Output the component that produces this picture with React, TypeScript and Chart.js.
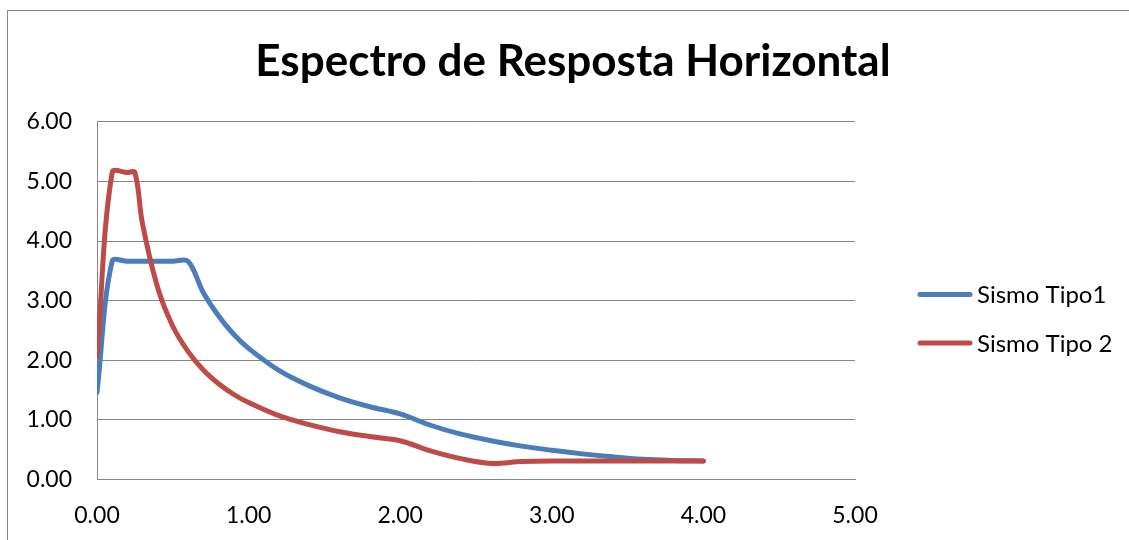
import React, { useEffect, useRef } from "react";
import { Chart, registerables } from "chart.js";

Chart.register(...registerables);

const chartTitle = "Espectro de Resposta Horizontal";
const seriesNames = ["Sismo Tipo1", "Sismo Tipo 2"];
const seriesColors = ["#4A7EBB", "#BE4B48"];

const tipo1T = [0, 0.1, 0.2, 0.3, 0.4, 0.5, 0.6, 0.7, 0.8, 0.9, 1.0, 1.2, 1.4, 1.6, 1.8, 2.0, 2.2, 2.4, 2.6, 2.8, 3.0, 3.2, 3.4, 3.6, 3.8, 4.0];
const tipo1Se = [1.46, 3.66, 3.66, 3.66, 3.66, 3.66, 3.66, 3.14, 2.75, 2.44, 2.2, 1.83, 1.57, 1.37, 1.22, 1.1, 0.91, 0.76, 0.65, 0.56, 0.49, 0.43, 0.38, 0.34, 0.32, 0.31];

const tipo2T = [0, 0.1, 0.2, 0.25, 0.3, 0.4, 0.5, 0.6, 0.7, 0.8, 0.9, 1.0, 1.2, 1.4, 1.6, 1.8, 2.0, 2.2, 2.4, 2.6, 2.8, 3.0, 3.5, 4.0];
const tipo2Se = [2.06, 5.15, 5.15, 5.15, 4.29, 3.22, 2.57, 2.15, 1.84, 1.61, 1.43, 1.29, 1.07, 0.92, 0.8, 0.72, 0.65, 0.48, 0.35, 0.27, 0.3, 0.31, 0.31, 0.31];

const xTicks = [0, 1, 2, 3, 4, 5];
const yTicks = [0, 1, 2, 3, 4, 5, 6];

const GRID = "#868686";
const FONT = "Lato";

const legendPlugin = {
  id: "excelLegend",
  afterDraw(chart: any) {
    const ctx = chart.ctx as CanvasRenderingContext2D;
    const rows = [283.5, 332];
    ctx.save();
    seriesNames.forEach((name, i) => {
      const y = rows[i];
      ctx.strokeStyle = seriesColors[i];
      ctx.lineWidth = 5;
      ctx.lineCap = "round";
      ctx.beginPath();
      ctx.moveTo(912, y);
      ctx.lineTo(962, y);
      ctx.stroke();
      ctx.fillStyle = "#000";
      ctx.font = `24px ${FONT}`;
      ctx.textAlign = "left";
      ctx.textBaseline = "middle";
      ctx.fillText(name, 969, y + 1);
    });
    ctx.restore();
  },
};

export default function App() {
  const canvasRef = useRef<HTMLCanvasElement>(null);

  useEffect(() => {
    const makeData = (ts: number[], vs: number[]) => ts.map((t, i) => ({ x: t, y: vs[i] }));
    const chart = new Chart(canvasRef.current!, {
      type: "line",
      data: {
        datasets: [
          {
            label: seriesNames[0],
            data: makeData(tipo1T, tipo1Se),
            borderColor: seriesColors[0],
            backgroundColor: seriesColors[0],
            borderWidth: 5,
            pointRadius: 0,
            tension: 0.35,
            borderCapStyle: "round",
            borderJoinStyle: "round",
            fill: false,
            order: 1,
          },
          {
            label: seriesNames[1],
            data: makeData(tipo2T, tipo2Se),
            borderColor: seriesColors[1],
            backgroundColor: seriesColors[1],
            borderWidth: 5,
            pointRadius: 0,
            tension: 0.35,
            borderCapStyle: "round",
            borderJoinStyle: "round",
            fill: false,
            order: 0,
          },
        ],
      },
      options: {
        animation: false,
        responsive: false,
        devicePixelRatio: 1,
        layout: { padding: 0 },
        plugins: {
          legend: { display: false },
          tooltip: { enabled: false },
          title: {
            display: true,
            text: chartTitle,
            color: "#000",
            font: { family: FONT, size: 44, weight: "bold" },
            padding: { top: 24, bottom: 34 },
          },
        },
        scales: {
          x: {
            type: "linear",
            min: xTicks[0],
            max: xTicks[xTicks.length - 1],
            afterBuildTicks: (scale: any) => {
              scale.ticks = xTicks.map((v) => ({ value: v }));
            },
            afterFit: (scale: any) => {
              scale.height = 69.5;
            },
            grid: { display: false, drawTicks: false },
            border: { display: true, color: GRID, width: 1 },
            ticks: {
              color: "#000",
              font: { family: FONT, size: 23 },
              padding: 22,
              maxRotation: 0,
              callback: (v: any) => Number(v).toFixed(2),
            },
          },
          y: {
            type: "linear",
            min: yTicks[0],
            max: yTicks[yTicks.length - 1],
            afterBuildTicks: (scale: any) => {
              scale.ticks = yTicks.map((v) => ({ value: v }));
            },
            afterFit: (scale: any) => {
              scale.width = 89;
            },
            grid: { display: true, drawTicks: false, color: GRID, lineWidth: 1 },
            border: { display: true, color: GRID, width: 1 },
            ticks: {
              color: "#000",
              font: { family: FONT, size: 23 },
              padding: 25,
              callback: (v: any) => Number(v).toFixed(2),
            },
          },
          legendSpace: {
            type: "linear",
            position: "right",
            display: true,
            min: 0,
            max: 1,
            afterFit: (scale: any) => {
              scale.width = 283;
            },
            grid: { display: false, drawTicks: false },
            border: { display: false },
            ticks: { display: false },
          },
        },
      },
      plugins: [legendPlugin],
    } as any);
    return () => chart.destroy();
  }, []);

  return (
    <div style={{ position: "fixed", inset: 0, overflow: "hidden", background: "#fff" }}>
      <div
        style={{
          position: "absolute",
          left: 7,
          top: 10,
          width: 1132,
          height: 540,
          border: `1px solid ${GRID}`,
          boxSizing: "border-box",
        }}
      >
        <canvas ref={canvasRef} width={1130} height={538} style={{ display: "block", width: 1130, height: 538 }} />
      </div>
    </div>
  );
}
